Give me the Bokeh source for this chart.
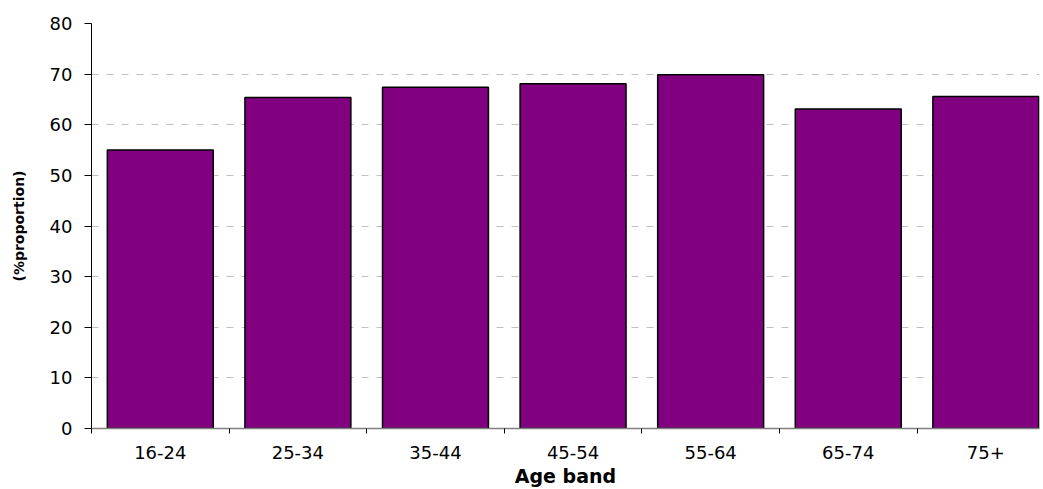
from bokeh.plotting import figure
from bokeh.models import Range1d, FixedTicker
from bokeh.embed import file_html
from bokeh.resources import INLINE

categories = ["16-24", "25-34", "35-44", "45-54", "55-64", "65-74", "75+"]
values = [55.0, 65.4, 67.4, 68.1, 69.9, 63.1, 65.6]
y_ticks = [0, 10, 20, 30, 40, 50, 60, 70, 80]

centers = [i + 0.5 for i in range(len(categories))]
bounds = [i for i in range(len(categories) + 1)]

FONT = "DejaVu Sans"

p = figure(width=1043, height=489, output_backend="svg", toolbar_location=None,
           x_range=Range1d(0, 6.89), y_range=Range1d(0, 80),
           min_border_left=91, min_border_top=23, min_border_bottom=60, min_border_right=4)
p.outline_line_color = None
p.background_fill_color = "white"
p.border_fill_color = "white"

p.vbar(x=centers, top=values, width=0.77, bottom=0,
       fill_color="#800080", line_color="black", line_width=1.5)

# x axis
p.xaxis.ticker = FixedTicker(ticks=centers, minor_ticks=bounds)
p.xaxis.major_label_overrides = {c: lab for c, lab in zip(centers, categories)}
p.xaxis.major_tick_out = 0
p.xaxis.major_tick_in = 0
p.xaxis.minor_tick_out = 5
p.xaxis.minor_tick_in = 0
p.xaxis.minor_tick_line_color = "black"
p.xaxis.axis_line_color = "#808080"
p.xaxis.axis_line_width = 1.5
p.xaxis.major_label_text_font = FONT
p.xaxis.major_label_text_font_size = "18px"
p.xaxis.major_label_text_color = "black"
p.xaxis.major_label_standoff = 12
p.xaxis.axis_label = "Age band"
p.xaxis.axis_label_text_font = FONT
p.xaxis.axis_label_text_font_size = "19px"
p.xaxis.axis_label_text_font_style = "bold"
p.xaxis.axis_label_text_color = "black"
p.xaxis.axis_label_standoff = 3

# y axis
p.yaxis.ticker = FixedTicker(ticks=y_ticks)
p.yaxis.minor_tick_line_color = None
p.yaxis.major_tick_out = 7
p.yaxis.major_tick_in = 0
p.yaxis.major_tick_line_color = "black"
p.yaxis.axis_line_color = "black"
p.yaxis.axis_line_width = 1
p.yaxis.major_label_text_font = FONT
p.yaxis.major_label_text_font_size = "18px"
p.yaxis.major_label_text_color = "black"
p.yaxis.major_label_standoff = 12
p.yaxis.axis_label = "(%proportion)"
p.yaxis.axis_label_text_font = FONT
p.yaxis.axis_label_text_font_size = "14px"
p.yaxis.axis_label_text_font_style = "bold"
p.yaxis.axis_label_text_color = "black"
p.yaxis.axis_label_standoff = 20

p.xgrid.grid_line_color = None
p.ygrid.ticker = FixedTicker(ticks=y_ticks[1:])
p.ygrid.grid_line_color = "#c0c0c0"
p.ygrid.grid_line_dash = "7 8"
p.ygrid.grid_line_width = 1

open("out.html", "w").write(file_html(p, INLINE))
